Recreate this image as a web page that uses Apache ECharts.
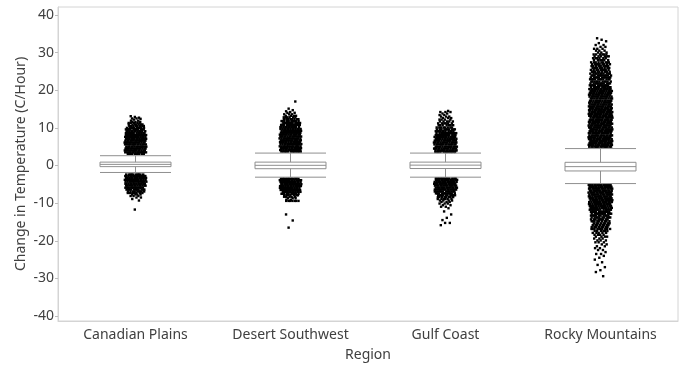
<!DOCTYPE html>
<html>
<head>
<meta charset="utf-8">
<script src="https://cdn.jsdelivr.net/npm/echarts@6/dist/echarts.min.js"></script>
<style>
  html, body { margin: 0; padding: 0; background: #fff; }
  #chart { width: 682px; height: 367px; }
</style>
</head>
<body>
<div id="chart"></div>
<script>
// ---- data ----
const regions = ['Canadian Plains', 'Desert Southwest', 'Gulf Coast', 'Rocky Mountains'];
// [lower whisker, Q1, median, Q3, upper whisker]
const boxStats = [
  [-1.85, -0.3, 0.3, 0.9, 2.6],
  [-3.1, -0.85, 0.05, 0.9, 3.3],
  [-3.1, -0.8, 0.1, 0.9, 3.3],
  [-4.8, -1.45, -0.3, 0.85, 4.5]
];
const yTicks = [-40, -30, -20, -10, 0, 10, 20, 30, 40];

// outliers as [value, count]
const canadianOutliers = [
  [3.1,10],[3.5,14],[4.0,14],[4.5,14],[5.0,14],[5.6,14],[6.1,14],[6.6,14],[7.1,14],[7.6,13],[8.1,13],
  [8.6,12],[9.1,12],[9.6,11],[10.0,10],[10.5,8],[10.9,7],[11.3,5],[11.6,3],[11.9,2],[12.2,1],[12.4,1],
  [12.5,2],[12.7,1],[12.9,1],[13.1,1],
  [-2.4,10],[-2.8,14],[-3.3,14],[-3.8,14],[-4.3,14],[-4.85,13],[-5.35,13],[-5.9,12],[-6.4,11],[-6.9,9],
  [-7.3,7],[-7.7,4],[-8.1,3],[-8.5,2],[-8.9,1],[-9.3,1],[-11.7,1]
];
const desertOutliers = [
  [3.7,12],[4.1,14],[4.6,14],[5.1,14],[5.7,14],[6.2,14],[6.7,14],[7.2,14],[7.7,14],[8.2,14],[8.7,13],
  [9.2,13],[9.7,13],[10.2,12],[10.8,12],[11.3,11],[11.8,10],[12.3,8],[12.8,6],[13.2,4],[13.6,3],[14.0,2],
  [14.2,1],[14.4,1],[14.7,1],[15.1,1],[17.0,1],
  [-3.5,12],[-3.9,14],[-4.4,14],[-4.95,14],[-5.45,14],[-5.95,13],[-6.5,13],[-7.0,12],[-7.5,10],[-7.9,7],
  [-8.3,5],[-8.7,3],[-9.1,2],[-9.4,7],[-13.0,1],[-14.6,1],[-16.5,1]
];
const gulfOutliers = [
  [3.6,12],[4.0,14],[4.5,14],[5.0,14],[5.6,14],[6.1,14],[6.6,14],[7.1,13],[7.6,13],[8.1,12],[8.6,12],
  [9.1,11],[9.6,10],[10.1,8],[10.7,7],[11.2,6],[11.7,5],[12.2,4],[12.6,3],[13.0,3],[13.4,2],[13.8,2],
  [14.2,3],[14.5,1],
  [-3.4,12],[-3.8,14],[-4.35,14],[-4.85,14],[-5.35,14],[-5.9,14],[-6.4,13],[-6.9,12],[-7.4,11],[-7.9,10],
  [-8.4,8],[-8.9,6],[-9.3,4],[-9.7,3],[-10.1,3],[-10.55,2],[-10.95,2],[-11.35,1],[-12.2,1],[-13.0,1],
  [-13.9,1],[-14.5,1],[-15.25,2],[-15.85,1]
];
const rockyOutliers = [
  [5.0,15],[5.5,15],[6.0,15],[6.5,15],[7.0,15],[7.5,15],[8.0,15],[8.6,15],[9.1,15],[9.6,15],[10.1,15],
  [10.6,15],[11.1,15],[11.6,15],[12.1,15],[12.7,15],[13.2,15],[13.7,15],[14.2,15],[14.7,15],[15.2,15],
  [15.7,13],[16.2,13],[16.7,13],[17.2,13],[17.8,13],[18.3,13],[18.8,13],[19.3,13],[19.8,13],[20.3,13],
  [20.8,11],[21.3,11],[21.8,11],[22.3,11],[22.9,11],[23.4,11],[23.9,11],[24.4,11],
  [24.9,9],[25.4,9],[25.9,9],[26.4,9],[26.9,9],[27.4,9],
  [28.0,6],[28.5,6],[29.0,6],[29.5,6],
  [30.0,3],[30.5,3],[31.0,3],[31.5,2],[32.0,2],[32.5,1],[33.0,1],[33.4,1],[33.8,1],
  [-5.15,15],[-5.65,15],[-6.15,15],[-6.7,15],[-7.2,15],[-7.7,15],[-8.2,14],[-8.7,14],[-9.2,14],[-9.7,14],
  [-10.25,13],[-10.75,13],[-11.25,13],[-11.75,12],[-12.3,11],[-12.8,11],[-13.3,10],[-13.8,10],[-14.3,9],
  [-14.8,9],[-15.35,8],[-15.85,8],[-16.35,8],[-16.85,10],[-17.4,6],[-17.9,5],[-18.4,4],[-18.9,4],[-19.4,3],
  [-19.9,3],[-20.4,3],[-20.95,2],[-21.45,2],[-21.95,2],[-22.45,2],[-23.0,1],[-23.5,2],[-24.0,1],[-24.5,1],
  [-25.0,1],[-25.7,1],[-26.4,1],[-27.0,1],[-27.8,1],[-28.3,1],[-29.4,1]
];

// ---- styling (not data) ----
const jitterWidth = [0.142, 0.142, 0.15, 0.155]; // in category units
const fontFamily = "'Noto Sans', 'Open Sans', sans-serif";
const textColor = '#404040';
const frameColor = '#d4d4d4';

const outlierSets = [canadianOutliers, desertOutliers, gulfOutliers, rockyOutliers];
const scatterData = [];
let k = 0;
outlierSets.forEach((set, ci) => {
  set.forEach(([v, c]) => {
    const f = Math.min(1, 0.45 + c / 25);
    for (let j = 0; j < c; j++) {
      k++;
      const u = (k * 0.6180339887) % 1;
      scatterData.push([ci + (u - 0.5) * jitterWidth[ci] * f, v]);
    }
  });
});

const chart = echarts.init(document.getElementById('chart'), null, { renderer: 'canvas' });
chart.setOption({
  animation: false,
  backgroundColor: '#fff',
  textStyle: { fontFamily: fontFamily, color: textColor },
  grid: {
    left: 58, right: 4, top: 7, bottom: 42,
    show: true, borderColor: frameColor, borderWidth: 1, backgroundColor: 'transparent'
  },
  xAxis: [
    {
      type: 'category',
      data: regions,
      name: 'Region',
      nameLocation: 'middle',
      nameGap: 27,
      nameTextStyle: { fontSize: 14, color: textColor, fontFamily: fontFamily },
      axisLine: { show: true, onZero: false, lineStyle: { color: frameColor } },
      axisTick: { show: false },
      axisLabel: { fontSize: 14, color: textColor, margin: 7, fontFamily: fontFamily },
      splitLine: { show: false }
    },
    {
      type: 'value',
      min: -0.5, max: 3.5,
      show: false,
      axisLine: { show: false, onZero: false },
      splitLine: { show: false }
    }
  ],
  yAxis: {
    type: 'value',
    min: -41.3, max: 42.1,
    name: 'Change in Temperature (C/Hour)',
    nameLocation: 'middle',
    nameGap: 30,
    nameMoveOverlap: false,
    nameTextStyle: { fontSize: 14, color: textColor, fontFamily: fontFamily },
    axisLine: { show: true, onZero: false, lineStyle: { color: frameColor } },
    axisTick: { show: true, length: 3, lineStyle: { color: '#bdbdbd' }, customValues: yTicks },
    axisLabel: { fontSize: 14, color: textColor, margin: 4, fontFamily: fontFamily, customValues: yTicks },
    splitLine: { show: false }
  },
  series: [
    {
      type: 'scatter',
      xAxisIndex: 1,
      data: scatterData,
      symbol: 'rect',
      symbolSize: 2.4,
      itemStyle: { color: '#000', opacity: 1 },
      silent: true,
      z: 2
    },
    {
      type: 'boxplot',
      xAxisIndex: 0,
      data: boxStats,
      boxWidth: [71, 71],
      itemStyle: { color: '#ffffff', borderColor: '#8f8f8f', borderWidth: 1 },
      z: 3
    }
  ]
});
</script>
</body>
</html>
